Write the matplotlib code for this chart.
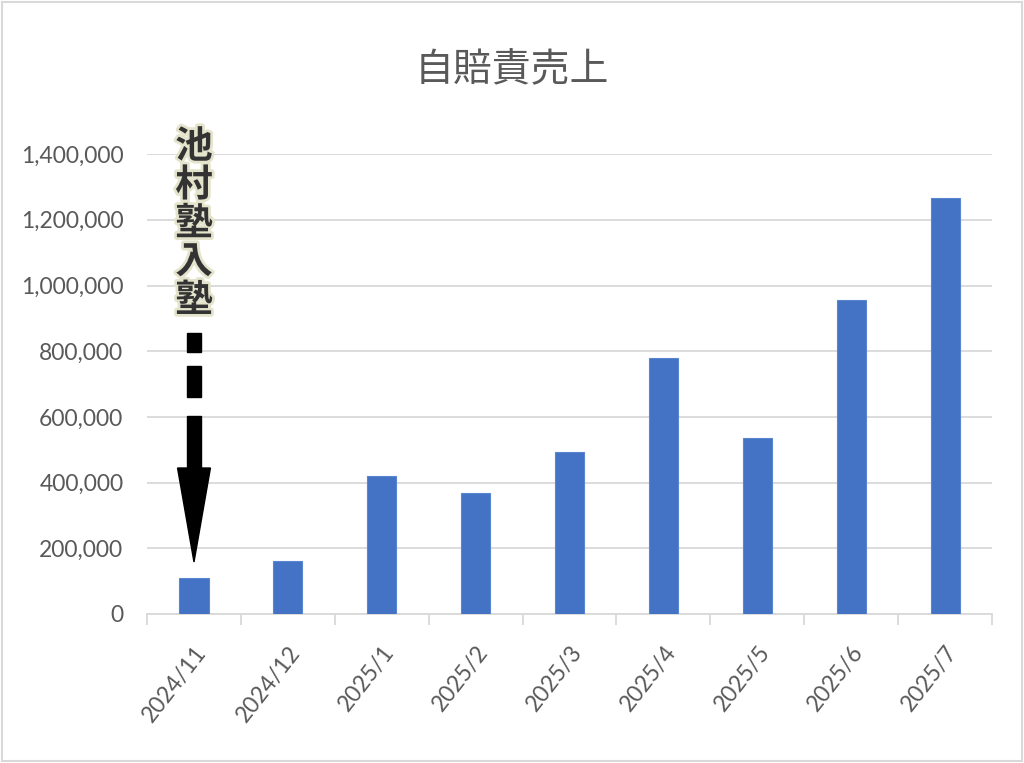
import matplotlib
matplotlib.use("Agg")
import matplotlib.pyplot as plt
import matplotlib.patheffects as pe
from matplotlib.patches import Rectangle, Polygon
from matplotlib.ticker import FuncFormatter, FixedLocator

plt.rcParams['font.family'] = ['Noto Sans CJK JP', 'DejaVu Sans']

# データ
months = ["2024/11", "2024/12", "2025/1", "2025/2", "2025/3",
          "2025/4", "2025/5", "2025/6", "2025/7"]
sales = [110000, 161000, 421000, 369000, 493000,
         778000, 536000, 955000, 1265000]
title = "自賠責売上"
note = "池村塾入塾"

fig = plt.figure(figsize=(10.24, 7.63), dpi=100)
ax = fig.add_axes([0.1436, 0.1953, 0.9688 - 0.1436, 0.798 - 0.1953])

x = list(range(len(months)))
ax.bar(x, sales, width=0.31, color="#4472C4", edgecolor="#5a85d0",
       linewidth=0.8, zorder=3)

ax.set_xlim(-0.5, len(months) - 0.5)
ax.set_ylim(0, 1400000)
ax.set_yticks(range(0, 1400001, 200000))
ax.yaxis.set_major_formatter(FuncFormatter(lambda v, p: f"{int(v):,}"))
ax.grid(axis="y", color="#d9d9d9", linewidth=1.3, zorder=0)

for s in ["top", "right", "left"]:
    ax.spines[s].set_visible(False)
ax.spines["bottom"].set_color("#d9d9d9")
ax.spines["bottom"].set_linewidth(1.3)

ax.set_xticks(x)
ax.set_xticklabels(months, rotation=52, ha="right", rotation_mode="anchor")
ax.xaxis.set_minor_locator(FixedLocator([i - 0.5 for i in range(len(months) + 1)]))
ax.tick_params(axis="x", which="major", length=0, pad=20, labelsize=16.5,
               labelcolor="#595959")
ax.tick_params(axis="x", which="minor", length=8, color="#d9d9d9", width=1.3)
ax.tick_params(axis="y", length=0, pad=17, labelsize=16.5, labelcolor="#595959")
for lab in ax.get_xticklabels() + ax.get_yticklabels():
    lab.set_fontfamily(["Lato", "DejaVu Sans"])

fig.text(0.5, 0.908, title, ha="center", va="center", fontsize=28,
         color="#595959")

# 注記(縦書き)と矢印
ax.text(0, 1190000, "\n".join(note), ha="center", va="center", fontsize=27,
        fontweight="bold", color="#333333", linespacing=0.98, clip_on=False,
        zorder=5,
        path_effects=[pe.withStroke(linewidth=4, foreground="#e4e4cc")])

shaft_w = 0.075
for y0, y1 in [(797600, 855400), (660600, 755000), (438400, 602700)]:
    ax.add_patch(Rectangle((-shaft_w, y0), 2 * shaft_w, y1 - y0,
                           color="black", zorder=5, clip_on=False))
ax.add_patch(Polygon([(-0.175, 444400), (0.175, 444400), (0, 158300)],
                     closed=True, color="black", zorder=5))

# 外枠
fig.patches.append(Rectangle((0.002, 0.003), 0.996, 0.994, transform=fig.transFigure,
                             fill=False, edgecolor="#d9d9d9", linewidth=1.5))

fig.savefig("out.png", dpi=100)
